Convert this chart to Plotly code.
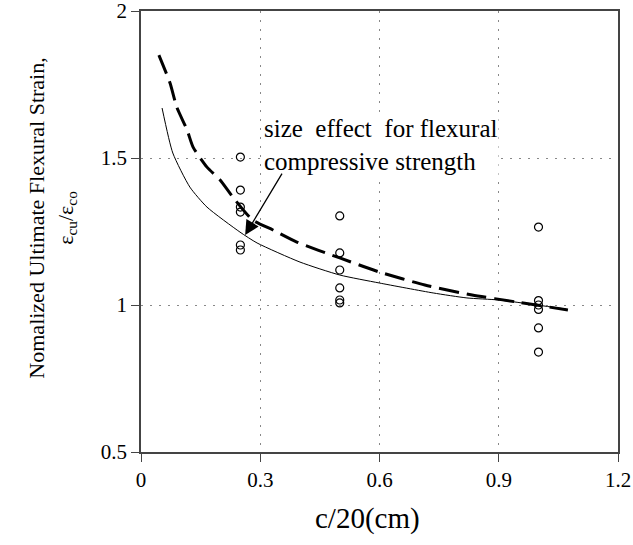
import plotly.graph_objects as go

# Measured points (open circles)
pts_x = [0.25, 0.25, 0.25, 0.25, 0.25, 0.25,
         0.5, 0.5, 0.5, 0.5, 0.5, 0.5,
         1.0, 1.0, 1.0, 1.0, 1.0, 1.0]
pts_y = [1.503, 1.391, 1.333, 1.316, 1.204, 1.187,
         1.303, 1.177, 1.119, 1.058, 1.017, 1.007,
         1.265, 1.015, 1.00, 0.985, 0.922, 0.84]

# Solid thin curve
solid_x = [0.053, 0.080, 0.123, 0.166, 0.249, 0.292, 0.40, 0.50, 0.599, 0.735, 0.82, 0.90, 0.996, 1.07]
solid_y = [1.670, 1.517, 1.401, 1.333, 1.248, 1.211, 1.146, 1.102, 1.075, 1.041, 1.024, 1.017, 1.0, 0.986]

# Thick dashed curve
dash_x = [0.045, 0.073, 0.09, 0.116, 0.131, 0.166, 0.199, 0.231, 0.28, 0.332, 0.392,
          0.5, 0.6, 0.714, 0.833, 0.946, 1.074]
dash_y = [1.85, 1.755, 1.673, 1.595, 1.537, 1.469, 1.425, 1.367, 1.29, 1.255, 1.214,
          1.16, 1.112, 1.068, 1.034, 1.010, 0.983]

x_ticks = [0, 0.3, 0.6, 0.9, 1.2]
x_ticklabels = ["0", "0.3", "0.6", "0.9", "1.2"]
y_ticks = [0.5, 1, 1.5, 2]
y_ticklabels = ["0.5", "1", "1.5", "2"]

FONT = "Times New Roman, Liberation Serif, DejaVu Serif, serif"

fig = go.Figure()
fig.add_trace(go.Scatter(x=solid_x, y=solid_y, mode="lines",
                         line=dict(color="black", width=1, shape="spline", smoothing=0.6),
                         showlegend=False))
fig.add_trace(go.Scatter(x=dash_x, y=dash_y, mode="lines",
                         line=dict(color="black", width=3, dash="20px,8px", shape="spline",
                                   smoothing=0.6),
                         showlegend=False))
fig.add_trace(go.Scatter(x=pts_x, y=pts_y, mode="markers",
                         marker=dict(symbol="circle-open", size=8, color="black",
                                     line=dict(width=1.2, color="black")),
                         showlegend=False))

fig.add_annotation(x=0.304, y=1.544, xref="x", yref="y", xanchor="left", yanchor="middle",
                   text="size  effect  for flexural<br>compressive strength",
                   showarrow=False, align="left", bgcolor="white",
                   font=dict(family=FONT, size=25, color="black"))
fig.add_annotation(x=0.262, y=1.238, ax=0.357, ay=1.452, xref="x", yref="y",
                   axref="x", ayref="y", text="", showarrow=True,
                   arrowhead=2, arrowsize=2.2, arrowwidth=1.3, arrowcolor="black")

fig.add_annotation(xref="paper", yref="paper", x=-0.187, y=0.531, textangle=-90,
                   xanchor="center", yanchor="middle",
                   text="Nomalized Ultimate Flexural Strain,<br>ε<sub>cu</sub>/ε<sub>co</sub>",
                   showarrow=False, font=dict(family=FONT, size=22, color="black"))
fig.add_annotation(xref="paper", yref="paper", x=0.474, y=-0.15,
                   xanchor="center", yanchor="middle",
                   text="c/20(cm)", showarrow=False,
                   font=dict(family=FONT, size=29, color="black"))

fig.update_xaxes(range=[0, 1.2], tickvals=x_ticks, ticktext=x_ticklabels,
                 showline=True, linecolor="#444", linewidth=1.5, mirror=True,
                 ticks="outside", ticklen=8, tickcolor="#444",
                 showgrid=True, gridcolor="#888", griddash="2px,7px", gridwidth=1.2,
                 zeroline=False, automargin=False, ticklabeloverflow="allow",
                 tickfont=dict(family=FONT, size=21, color="black"))
fig.update_yaxes(range=[0.5, 2], tickvals=y_ticks, ticktext=y_ticklabels,
                 showline=True, linecolor="#444", linewidth=1.5, mirror=True,
                 ticks="outside", ticklen=8, tickcolor="#444",
                 showgrid=True, gridcolor="#888", griddash="2px,7px", gridwidth=1.2,
                 zeroline=False, automargin=False, ticklabeloverflow="allow",
                 tickfont=dict(family=FONT, size=21, color="black"))

fig.update_layout(width=633, height=545, plot_bgcolor="white", paper_bgcolor="white",
                  margin=dict(l=141, r=15, t=11, b=93, autoexpand=False), showlegend=False)

# remove the default 8px page margin so the figure sits at the window origin
fig.write_html("out.html", config={"displayModeBar": False},
               post_script="document.body.style.margin='0px';")
